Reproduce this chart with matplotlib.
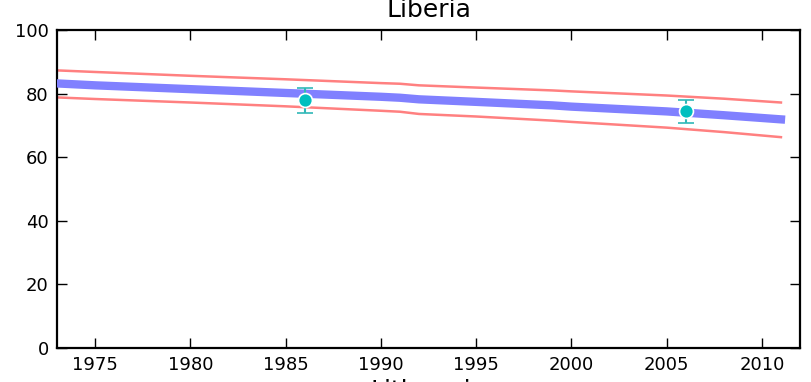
import matplotlib
matplotlib.use("Agg")
import matplotlib.pyplot as plt

years = [1973, 1975, 1980, 1985, 1990, 1991, 1992, 1995, 1999, 2000, 2005, 2008, 2011]
mean_vals = [83.2, 82.6, 81.4, 80.2, 79.0, 78.7, 78.2, 77.4, 76.3, 75.9, 74.4, 73.2, 71.9]
upper_vals = [87.3, 86.8, 85.6, 84.5, 83.3, 83.1, 82.6, 81.9, 81.0, 80.7, 79.4, 78.4, 77.2]
lower_vals = [78.8, 78.3, 77.2, 76.0, 74.6, 74.3, 73.6, 72.8, 71.5, 71.1, 69.3, 67.9, 66.3]

obs_years = [1986, 2006]
obs_vals = [78.0, 74.4]
obs_low = [74.0, 70.8]
obs_high = [81.9, 78.0]

title = "Liberia"
next_title = "Lithuania"
xticks = [1975, 1980, 1985, 1990, 1995, 2000, 2005, 2010]
yticks = [0, 20, 40, 60, 80, 100]

fig = plt.figure(figsize=(8.11, 3.82), dpi=100)
ax = fig.add_axes([57/811, 34/382, 743/811, 318/382])

ax.plot(years, upper_vals, color='#ff8080', lw=1.8, zorder=2)
ax.plot(years, lower_vals, color='#ff8080', lw=1.8, zorder=2)
ax.plot(years, mean_vals, color='#8080ff', lw=6, solid_capstyle='projecting', zorder=3)

yerr = [[v - l for v, l in zip(obs_vals, obs_low)], [h - v for v, h in zip(obs_vals, obs_high)]]
ax.errorbar(obs_years, obs_vals, yerr=yerr, fmt='o', color='#00bfbf', ecolor='#30b8b8',
            elinewidth=1.5, capsize=5.5, capthick=1.5, markersize=10,
            markeredgecolor='white', markeredgewidth=1.2, zorder=5)

ax.set_xlim(1973, 2012)
ax.set_ylim(0, 100)
ax.set_xticks(xticks)
ax.set_yticks(yticks)
ax.tick_params(direction='in', length=7, width=1, labelsize=13, pad=6,
               top=True, right=True)
for s in ax.spines.values():
    s.set_linewidth(1.6)

ax.set_title(title, fontsize=18, pad=9)
fig.text(0.528, -0.042, next_title, ha='center', va='baseline', fontsize=18)

fig.savefig("out.png", dpi=100)
